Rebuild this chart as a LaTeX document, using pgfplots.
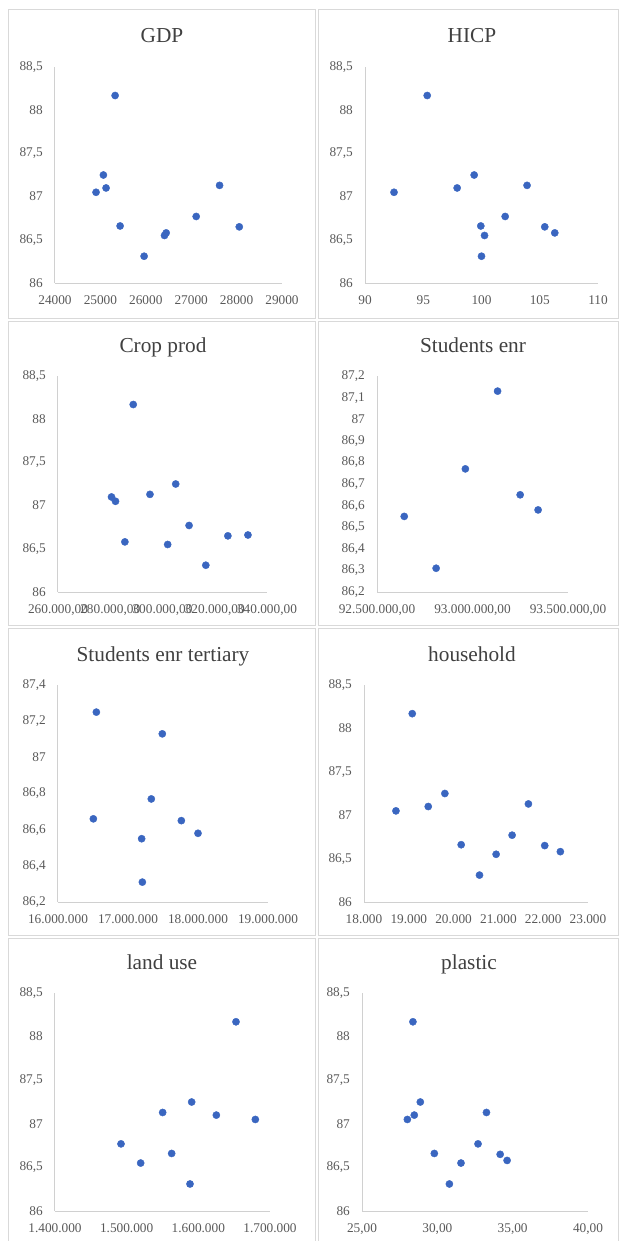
\documentclass[border=0pt]{standalone}
\usepackage{pgfplots}
\pgfplotsset{compat=1.18}
\usepackage{fontspec}
\setmainfont{Liberation Serif}
\definecolor{axisgray}{HTML}{D0D0D0}
\definecolor{boxgray}{HTML}{D9D9D9}
\definecolor{tickgray}{HTML}{595959}
\definecolor{titlegray}{HTML}{404040}
\definecolor{dotblue}{HTML}{3A66C0}
\pgfplotsset{
 excel/.style={
  scale only axis,
  anchor=south west,
  axis x line=bottom, axis y line=left,
  axis line style={draw=axisgray, line width=1pt, -},
  major tick length=0pt,
  tick style={draw=none},
  scaled x ticks=false, scaled y ticks=false,
  ticklabel style={font=\fontsize{13.3}{14}\selectfont, text=tickgray},
  yticklabel style={anchor=east, inner sep=0pt, xshift=-12pt},
  xticklabel style={anchor=base, inner sep=0pt, yshift=-21pt},
  clip=false,
 },
 y885/.style={ymin=86, ymax=88.5, ytick={86,86.5,87,87.5,88,88.5},
  yticklabels={86,{86,5},87,{87,5},88,{88,5}}},
 dots/.style={only marks, mark=*, mark size=3.6pt, mark options={fill=dotblue, draw=dotblue}},
}
\tikzset{ttl/.style={anchor=base, font=\fontsize{21.3}{24}\selectfont, text=titlegray}}
\begin{document}
\begin{tikzpicture}
\useasboundingbox (0,0) rectangle (620pt,-1241pt);
% panel frames
\draw[boxgray, line width=1pt] (8pt,-10pt) rectangle (315pt,-318pt);
\draw[boxgray, line width=1pt] (318pt,-10pt) rectangle (618pt,-318pt);
\draw[boxgray, line width=1pt] (8pt,-321pt) rectangle (315pt,-625pt);
\draw[boxgray, line width=1pt] (318pt,-321pt) rectangle (618pt,-625pt);
\draw[boxgray, line width=1pt] (8pt,-628pt) rectangle (315pt,-935pt);
\draw[boxgray, line width=1pt] (318pt,-628pt) rectangle (618pt,-935pt);
\draw[boxgray, line width=1pt] (8pt,-938pt) rectangle (315pt,-1245pt);
\draw[boxgray, line width=1pt] (318pt,-938pt) rectangle (618pt,-1245pt);

% GDP
\node[ttl] at (162pt,-43pt) {GDP};
\begin{axis}[excel, y885, at={(55pt,-283pt)}, width=227pt, height=216pt,
  xmin=24000, xmax=29000, xtick={24000,25000,26000,27000,28000,29000},
  xticklabels={24000,25000,26000,27000,28000,29000}]
\addplot[dots] coordinates {(25324,88.17) (25066,87.25) (25125,87.10) (24904,87.05) (25434,86.66) (25963,86.31) (26412,86.55) (26449,86.58) (27110,86.77) (27625,87.13) (28059,86.65)};
\end{axis}

% HICP
\node[ttl] at (472pt,-43pt) {HICP};
\begin{axis}[excel, y885, at={(365pt,-283pt)}, width=233pt, height=216pt,
  xmin=90, xmax=110, xtick={90,95,100,105,110},
  xticklabels={90,95,100,105,110}]
\addplot[dots] coordinates {(95.34,88.17) (92.49,87.05) (97.91,87.10) (99.37,87.25) (103.91,87.13) (102.03,86.77) (99.94,86.66) (100.26,86.55) (100.0,86.31) (105.43,86.65) (106.29,86.58)};
\end{axis}

% Crop prod
\node[ttl] at (163pt,-352pt) {Crop prod};
\begin{axis}[excel, y885, at={(58pt,-592pt)}, width=209pt, height=216pt,
  xmin=260000, xmax=340000, xtick={260000,280000,300000,320000,340000},
  xticklabels={{260.000,00},{280.000,00},{300.000,00},{320.000,00},{340.000,00}}]
\addplot[dots] coordinates {(288800,88.17) (280480,87.10) (282016,87.05) (285600,86.58) (295200,87.13) (305056,87.25) (301984,86.55) (310176,86.77) (316576,86.31) (325024,86.65) (332704,86.66)};
\end{axis}

% Students enr
\node[ttl] at (473pt,-352pt) {Students enr};
\begin{axis}[excel, at={(377pt,-592pt)}, width=191pt, height=216pt,
  ymin=86.2, ymax=87.2, ytick={86.2,86.3,86.4,86.5,86.6,86.7,86.8,86.9,87,87.1,87.2},
  yticklabels={{86,2},{86,3},{86,4},{86,5},{86,6},{86,7},{86,8},{86,9},87,{87,1},{87,2}},
  xmin=92500000, xmax=93500000, xtick={92500000,93000000,93500000},
  xticklabels={{92.500.000,00},{93.000.000,00},{93.500.000,00}}]
\addplot[dots] coordinates {(92642609,86.55) (92809565,86.31) (92962609,86.77) (93131304,87.13) (93249565,86.65) (93343478,86.58)};
\end{axis}

% Students enr tertiary
\node[ttl] at (163pt,-661pt) {Students enr tertiary};
\begin{axis}[excel, at={(58pt,-902pt)}, width=210pt, height=217pt,
  ymin=86.2, ymax=87.4, ytick={86.2,86.4,86.6,86.8,87,87.2,87.4},
  yticklabels={{86,2},{86,4},{86,6},{86,8},87,{87,2},{87,4}},
  xmin=16000000, xmax=19000000, xtick={16000000,17000000,18000000,19000000},
  xticklabels={16.000.000,17.000.000,18.000.000,19.000.000}]
\addplot[dots] coordinates {(16548000,87.25) (16505000,86.66) (17490000,87.13) (17333000,86.77) (17195000,86.55) (17205000,86.31) (17762000,86.65) (18000000,86.58)};
\end{axis}

% household
\node[ttl] at (472pt,-661pt) {household};
\begin{axis}[excel, y885, at={(364pt,-902pt)}, width=224pt, height=217pt,
  xmin=18000, xmax=23000, xtick={18000,19000,20000,21000,22000,23000},
  xticklabels={18.000,19.000,20.000,21.000,22.000,23.000}]
\addplot[dots] coordinates {(18713,87.05) (19077,88.17) (19434,87.10) (19805,87.25) (20169,86.66) (20578,86.31) (20949,86.55) (21306,86.77) (21670,87.13) (22034,86.65) (22383,86.58)};
\end{axis}

% land use
\node[ttl] at (162pt,-969pt) {land use};
\begin{axis}[excel, y885, at={(55pt,-1211pt)}, width=215pt, height=218pt,
  xmin=1400000, xmax=1700000, xtick={1400000,1500000,1600000,1700000},
  xticklabels={1.400.000,1.500.000,1.600.000,1.700.000}]
\addplot[dots] coordinates {(1652558,88.17) (1590698,87.25) (1550233,87.13) (1625116,87.10) (1679535,87.05) (1492093,86.77) (1519535,86.55) (1562791,86.66) (1588372,86.31)};
\end{axis}

% plastic
\node[ttl] at (469pt,-969pt) {plastic};
\begin{axis}[excel, y885, at={(362pt,-1211pt)}, width=226pt, height=218pt,
  xmin=25, xmax=40, xtick={25,30,35,40},
  xticklabels={{25,00},{30,00},{35,00},{40,00}}]
\addplot[dots] coordinates {(28.38,88.17) (28.01,87.05) (28.47,87.10) (28.87,87.25) (29.80,86.66) (30.80,86.31) (31.57,86.55) (32.70,86.77) (33.26,87.13) (34.17,86.65) (34.63,86.58)};
\end{axis}
\end{tikzpicture}
\end{document}
